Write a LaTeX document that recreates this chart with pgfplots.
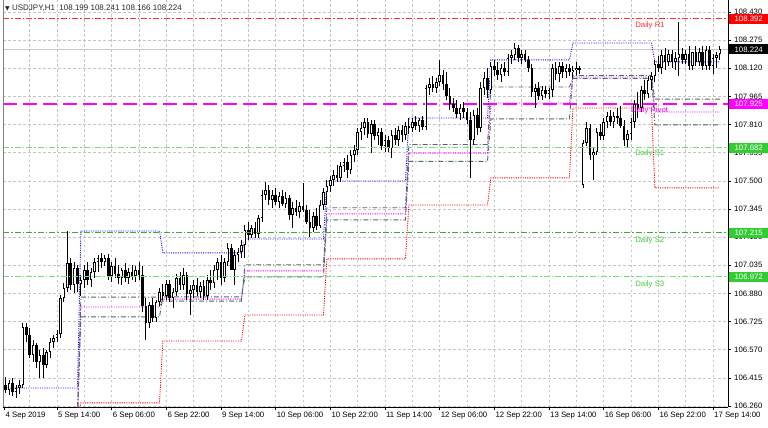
\documentclass[border=0pt]{standalone}
\usepackage{pgfplots}
\pgfplotsset{compat=1.18}
\usepackage{pgfplotstable}
\usepackage{fontspec}
\setmainfont{Liberation Sans}
\newfontfamily\dejavu{DejaVu Sans}

\definecolor{gridc}{HTML}{C4C4C4}
\definecolor{r1c}{HTML}{FF3030}
\definecolor{pivc}{RGB}{255,0,255}
\definecolor{s1c}{HTML}{78DC78}
\definecolor{s2c}{HTML}{35B035}
\definecolor{labg}{HTML}{45CC45}
\definecolor{tagg}{HTML}{32CD32}
\definecolor{cprc}{HTML}{4F6A6A}
\definecolor{bidc}{HTML}{C8C8C8}
\definecolor{stepb}{HTML}{1A1AFF}
\newcommand\mtfont{\fontsize{7.8bp}{9bp}\selectfont}

% hourly bars, b = bar index (0 = 5 Sep 14:00)
\pgfplotstableread{
b o h l c
-15 106.376 106.420 106.332 106.348
-14 106.348 106.403 106.321 106.387
-13 106.387 106.414 106.315 106.337
-12 106.337 106.376 106.304 106.359
-11 106.359 106.403 106.326 106.376
-10 106.376 106.717 106.359 106.695
-9 106.695 106.717 106.613 106.651
-8 106.651 106.690 106.524 106.541
-7 106.541 106.624 106.502 106.596
-6 106.596 106.607 106.469 106.502
-5 106.502 106.569 106.414 106.541
-4 106.541 106.580 106.414 106.486
-3 106.486 106.569 106.469 106.558
-2 106.558 106.635 106.524 106.613
-1 106.613 106.651 106.580 106.635
0 106.635 106.679 106.613 106.657
1 106.657 106.871 106.635 106.855
2 106.855 106.937 106.833 106.910
3 106.910 107.224 106.888 107.048
4 107.048 107.075 106.899 106.927
5 106.927 107.053 106.883 107.020
6 107.020 107.037 106.888 106.932
7 106.932 106.982 106.866 106.954
8 106.954 107.037 106.910 107.009
9 107.009 107.053 106.927 106.954
10 106.954 107.020 106.916 106.998
11 106.998 107.075 106.965 107.053
12 107.053 107.092 106.998 107.075
13 107.075 107.103 107.020 107.053
14 107.053 107.092 107.031 107.075
15 107.075 107.097 106.954 106.976
16 106.976 107.053 106.943 107.031
17 107.031 107.075 106.965 106.987
18 106.987 107.037 106.932 106.965
19 106.965 107.020 106.927 107.009
20 107.009 107.048 106.943 106.965
21 106.965 107.020 106.932 106.998
22 106.998 107.037 106.954 106.976
23 106.976 107.031 106.943 107.009
24 107.009 107.053 106.954 106.982
25 106.982 107.031 106.778 106.811
26 106.811 106.855 106.624 106.717
27 106.717 106.833 106.690 106.816
28 106.816 106.855 106.723 106.745
29 106.745 106.844 106.723 106.833
30 106.833 106.910 106.811 106.888
31 106.888 106.932 106.844 106.866
32 106.866 106.954 106.844 106.932
33 106.932 106.954 106.833 106.855
34 106.855 106.910 106.800 106.888
35 106.888 106.987 106.866 106.965
36 106.965 106.998 106.899 106.927
37 106.927 107.020 106.899 106.982
38 106.982 106.998 106.844 106.877
39 106.877 106.927 106.761 106.899
40 106.899 106.954 106.855 106.927
41 106.927 106.965 106.866 106.888
42 106.888 106.943 106.855 106.921
43 106.921 106.954 106.844 106.866
44 106.866 106.982 106.844 106.954
45 106.954 107.009 106.899 106.937
46 106.937 107.037 106.910 107.009
47 107.009 107.075 106.954 107.053
48 107.053 107.092 106.927 106.965
49 106.965 107.075 106.943 107.053
50 107.053 107.158 107.031 107.130
51 107.130 107.152 107.020 107.009
52 107.009 107.119 106.927 107.092
53 107.092 107.130 107.053 107.108
54 107.108 107.174 107.075 107.147
55 107.147 107.257 107.075 107.229
56 107.229 107.273 107.174 107.202
57 107.202 107.257 107.185 107.240
58 107.240 107.273 107.185 107.207
59 107.207 107.312 107.185 107.296
60 107.296 107.450 107.273 107.422
61 107.422 107.494 107.395 107.450
62 107.450 107.477 107.367 107.395
63 107.395 107.450 107.351 107.422
64 107.422 107.461 107.367 107.384
65 107.384 107.439 107.351 107.417
66 107.417 107.450 107.362 107.373
67 107.373 107.439 107.351 107.406
68 107.406 107.422 107.285 107.312
69 107.312 107.384 107.240 107.351
70 107.351 107.395 107.307 107.329
71 107.329 107.384 107.296 107.362
72 107.362 107.488 107.329 107.340
73 107.340 107.367 107.262 107.273
74 107.273 107.340 107.191 107.240
75 107.240 107.329 107.218 107.307
76 107.307 107.351 107.229 107.251
77 107.251 107.395 107.240 107.367
78 107.367 107.461 107.340 107.439
79 107.439 107.505 107.367 107.472
80 107.472 107.527 107.439 107.505
81 107.505 107.560 107.472 107.532
82 107.532 107.587 107.494 107.516
83 107.516 107.604 107.494 107.582
84 107.582 107.626 107.549 107.604
85 107.604 107.642 107.516 107.560
86 107.560 107.670 107.538 107.642
87 107.642 107.697 107.604 107.670
88 107.670 107.791 107.642 107.769
89 107.769 107.824 107.725 107.791
90 107.791 107.846 107.753 107.824
91 107.824 107.846 107.736 107.758
92 107.758 107.835 107.653 107.813
93 107.813 107.835 107.725 107.747
94 107.747 107.791 107.697 107.769
95 107.769 107.791 107.670 107.692
96 107.692 107.753 107.659 107.725
97 107.725 107.747 107.659 107.681
98 107.681 107.780 107.626 107.753
99 107.753 107.791 107.697 107.725
100 107.725 107.802 107.692 107.780
101 107.780 107.808 107.714 107.753
102 107.753 107.824 107.725 107.802
103 107.802 107.846 107.758 107.791
104 107.791 107.846 107.769 107.824
105 107.824 107.857 107.780 107.802
106 107.802 107.846 107.769 107.835
107 107.835 107.857 107.780 107.797
108 107.797 108.028 107.780 108.011
109 108.011 108.066 107.973 108.033
110 108.033 108.077 107.989 108.011
111 108.011 108.066 107.984 108.044
112 108.044 108.166 108.022 108.083
113 108.083 108.110 107.999 108.033
114 108.033 108.099 107.945 107.967
115 107.967 108.011 107.890 107.923
116 107.923 107.956 107.879 107.901
117 107.901 107.945 107.846 107.868
118 107.868 107.923 107.835 107.901
119 107.901 107.934 107.846 107.879
120 107.879 107.901 107.813 107.835
121 107.835 107.879 107.516 107.725
122 107.725 107.890 107.697 107.863
123 107.863 107.901 107.753 107.791
124 107.791 108.044 107.769 108.011
125 108.011 108.099 107.973 108.066
126 108.066 108.121 107.956 108.000
127 108.000 108.155 107.978 108.133
128 108.133 108.166 108.077 108.110
129 108.110 108.155 108.055 108.083
130 108.083 108.144 108.044 108.121
131 108.121 108.155 108.077 108.099
132 108.099 108.199 108.077 108.177
133 108.177 108.221 108.144 108.193
134 108.193 108.259 108.166 108.232
135 108.232 108.248 108.155 108.177
136 108.177 108.221 108.144 108.199
137 108.199 108.221 108.155 108.166
138 108.166 108.188 108.099 108.121
139 108.121 108.144 107.962 107.989
140 107.989 108.033 107.901 108.011
141 108.011 108.044 107.945 107.967
142 107.967 108.022 107.945 108.000
143 108.000 108.022 107.956 107.978
144 107.978 108.011 107.951 108.000
145 108.000 108.144 107.962 108.121
146 108.121 108.155 108.055 108.088
147 108.088 108.155 108.044 108.133
148 108.133 108.155 108.066 108.099
149 108.099 108.144 108.066 108.121
150 108.121 108.144 108.077 108.099
151 108.099 108.133 108.066 108.110
152 108.110 108.155 108.083 108.121
153 108.121 108.133 108.088 108.110
154 107.477 107.725 107.461 107.709
155 107.709 107.824 107.692 107.791
156 107.791 107.813 107.615 107.642
157 107.642 107.681 107.505 107.659
158 107.659 107.791 107.642 107.769
159 107.769 107.813 107.725 107.747
160 107.747 107.846 107.725 107.824
161 107.824 107.879 107.791 107.857
162 107.857 107.890 107.802 107.824
163 107.824 107.879 107.791 107.857
164 107.857 107.901 107.813 107.846
165 107.846 107.912 107.791 107.802
166 107.802 107.835 107.692 107.725
167 107.725 107.780 107.681 107.758
168 107.758 107.846 107.725 107.824
169 107.824 107.945 107.791 107.923
170 107.923 107.989 107.846 107.901
171 107.901 108.022 107.879 108.000
172 108.000 108.055 107.945 107.978
173 107.978 108.077 107.956 108.055
174 108.055 108.099 107.999 108.077
175 108.077 108.166 108.044 108.144
176 108.144 108.188 108.099 108.121
177 108.121 108.221 108.088 108.193
178 108.193 108.232 108.110 108.155
179 108.155 108.221 108.133 108.199
180 108.199 108.221 108.122 108.155
181 108.155 108.210 108.110 108.177
182 108.177 108.375 108.077 108.199
183 108.199 108.232 108.144 108.166
184 108.166 108.221 108.144 108.199
185 108.199 108.243 108.110 108.133
186 108.133 108.210 108.110 108.210
187 108.210 108.243 108.133 108.155
188 108.155 108.232 108.133 108.210
189 108.210 108.243 108.110 108.133
190 108.133 108.243 108.110 108.221
191 108.221 108.243 108.110 108.133
192 108.133 108.199 108.088 108.177
193 108.177 108.210 108.122 108.193
194 108.199 108.241 108.166 108.224
}\candles

\begin{document}
\begin{tikzpicture}[x=1bp,y=1bp]
\path[use as bounding box] (0,0) rectangle (768,427);
\begin{axis}[
  at={(3bp,20bp)}, anchor=south west,
  width=725bp, height=407bp, scale only axis,
  xmin=-15.8, xmax=196.4, ymin=106.2545, ymax=108.496,
  axis x line*=bottom, axis y line*=right,
  axis line style={black, line width=0.8bp},
  tick align=outside,
  major tick length=3bp, minor tick length=0pt,
  tick style={black, line width=0.6bp},
  xtick={0,16,...,192},
  xticklabels={5 Sep 14:00, 6 Sep 06:00, 6 Sep 22:00, 9 Sep 14:00, 10 Sep 06:00, 10 Sep 22:00, 11 Sep 14:00, 12 Sep 06:00, 12 Sep 22:00, 13 Sep 14:00, 16 Sep 06:00, 16 Sep 22:00, 17 Sep 14:00},
  minor xtick={-8,8,...,184},
  extra x ticks={-15.4}, extra x tick labels={4 Sep 2019},
  extra x tick style={grid=none},
  ytick={106.26,106.415,106.57,106.725,106.88,107.035,107.19,107.345,107.5,107.655,107.81,107.965,108.12,108.275,108.43},
  yticklabels={106.260,106.415,106.570,106.725,106.880,107.035,107.190,107.345,107.500,107.655,107.810,107.965,108.120,108.275,108.430},
  grid=both,
  grid style={gridc, dash pattern=on 2.5bp off 2.5bp, line width=0.6bp},
  minor grid style={gridc, dash pattern=on 2.5bp off 2.5bp, line width=0.6bp},
  xticklabel style={anchor=north west, inner sep=0pt, xshift=1bp, yshift=-2bp, font=\mtfont},
  yticklabel style={anchor=west, inner sep=0pt, xshift=3bp, font=\mtfont},
  clip mode=individual,
]
% bid line
\addplot[bidc, line width=0.9bp] coordinates {(-15.8,108.224) (196.4,108.224)};

% daily pivot level, drawn under the day steps
\addplot[draw=pivc, line width=2bp, dash pattern=on 14bp off 6bp] coordinates {(-15.8,107.925) (196.4,107.925)};

% previous day high / low, pivot and central range, one step per day
\addplot[stepb, line width=0.9bp, dash pattern=on 1.1bp off 1.2bp] coordinates {
(-15.8,106.359) (6,106.359) (7,107.224) (30,107.224) (31,107.103) (54,107.103)
(55,107.180) (78,107.180) (79,107.499) (102,107.499) (103,107.846) (126,107.846)
(127,108.166) (150,108.166) (151,108.259) (174,108.259) (175,108.155) (194,108.155)};
\addplot[red, line width=0.9bp, dash pattern=on 1.1bp off 1.2bp] coordinates {
(6,106.20) (7,106.277) (30,106.277) (31,106.618) (54,106.618)
(55,106.761) (78,106.761) (79,107.070) (102,107.070) (103,107.367) (126,107.367)
(127,107.516) (150,107.516) (151,107.901) (174,107.901) (175,107.461) (194,107.461)};
\addplot[pivc, line width=0.9bp, dash pattern=on 1.1bp off 1.2bp] coordinates {
(6,106.20) (7,106.805) (30,106.805) (31,106.849) (54,106.849)
(55,107.004) (78,107.004) (79,107.318) (102,107.318) (103,107.653) (126,107.653)
(127,107.929) (150,107.929) (151,108.072) (174,108.072) (175,107.879) (194,107.879)};
\addplot[cprc, line width=0.9bp, dash pattern=on 5bp off 2bp on 1bp off 2bp] coordinates {
(6,106.20) (7,106.751) (30,106.751) (31,106.861) (54,106.861)
(55,106.971) (78,106.971) (79,107.285) (102,107.285) (103,107.607) (126,107.607)
(127,107.841) (150,107.841) (151,108.080) (174,108.080) (175,107.808) (194,107.808)};
\addplot[cprc, line width=0.9bp, dash pattern=on 5bp off 2bp on 1bp off 2bp] coordinates {
(6,106.20) (7,106.860) (30,106.860) (31,106.838) (54,106.838)
(55,107.038) (78,107.038) (79,107.352) (102,107.352) (103,107.700) (126,107.700)
(127,108.017) (150,108.017) (151,108.064) (174,108.064) (175,107.950) (194,107.950)};

% candles: wicks, then bodies
\addplot[draw=none, mark=none, error bars/.cd, y dir=both, y explicit, error mark=none,
  error bar style={draw=black, line width=0.9bp}]
  table[x=b, y expr={0.5*(\thisrow{h}+\thisrow{l})}, y error expr={0.5*(\thisrow{h}-\thisrow{l})}] {\candles};
\addplot[draw=none, mark=none, error bars/.cd, y dir=both, y explicit, error mark=none,
  error bar style={draw=black, line width=2.6bp}]
  table[x=b, y expr={0.5*(\thisrow{o}+\thisrow{c})}, y error expr={max(0.5*(\thisrow{c}-\thisrow{o}),0)}] {\candles};
\addplot[draw=none, mark=none, error bars/.cd, y dir=both, y explicit, error mark=none,
  error bar style={draw=white, line width=1.0bp}]
  table[x=b, y expr={0.5*(\thisrow{o}+\thisrow{c})}, y error expr={max(0.5*(\thisrow{c}-\thisrow{o})-0.004,0)}] {\candles};
\addplot[draw=none, mark=none, error bars/.cd, y dir=both, y explicit, error mark=none,
  error bar style={draw=black, line width=2.6bp}]
  table[x=b, y expr={0.5*(\thisrow{o}+\thisrow{c})}, y error expr={max(0.5*(\thisrow{o}-\thisrow{c}),0)}] {\candles};

% daily levels
\addplot[r1c, line width=1.1bp, dash pattern=on 6bp off 2bp on 1.5bp off 2bp] coordinates {(-15.8,108.392) (196.4,108.392)};
\addplot[s1c, line width=1.1bp, dash pattern=on 6bp off 2bp on 1.5bp off 2bp] coordinates {(-15.8,107.682) (196.4,107.682)};
\addplot[s2c, line width=1.1bp, dash pattern=on 6bp off 2bp on 1.5bp off 2bp] coordinates {(-15.8,107.215) (196.4,107.215)};
\addplot[s1c, line width=1.1bp, dash pattern=on 6bp off 2bp on 1.5bp off 2bp] coordinates {(-15.8,106.972) (196.4,106.972)};

\node[anchor=west, inner sep=0pt, text=r1c, font=\mtfont] at (axis cs:169.2,108.358) {Daily R1};
\node[anchor=west, inner sep=0pt, text=pivc, font=\mtfont] at (axis cs:168.0,107.890) {Daily Pivot};
\node[anchor=west, inner sep=0pt, text=labg, font=\mtfont] at (axis cs:169.2,107.648) {Daily S1};
\node[anchor=west, inner sep=0pt, text=labg, font=\mtfont] at (axis cs:169.2,107.174) {Daily S2};
\node[anchor=west, inner sep=0pt, text=labg, font=\mtfont] at (axis cs:169.2,106.932) {Daily S3};

% price tags on the right scale
\node[fill=red, text=white, anchor=west, xshift=1bp, minimum width=39bp, minimum height=10bp, inner sep=0pt, font=\mtfont] at (axis cs:196.4,108.392) {108.392};
\node[fill=black, text=white, anchor=west, xshift=1bp, minimum width=39bp, minimum height=10bp, inner sep=0pt, font=\mtfont] at (axis cs:196.4,108.224) {108.224};
\node[fill=pivc, text=white, anchor=west, xshift=1bp, minimum width=39bp, minimum height=10bp, inner sep=0pt, font=\mtfont] at (axis cs:196.4,107.925) {107.925};
\node[fill=tagg, text=white, anchor=west, xshift=1bp, minimum width=39bp, minimum height=10bp, inner sep=0pt, font=\mtfont] at (axis cs:196.4,107.682) {107.682};
\node[fill=tagg, text=white, anchor=west, xshift=1bp, minimum width=39bp, minimum height=10bp, inner sep=0pt, font=\mtfont] at (axis cs:196.4,107.215) {107.215};
\node[fill=tagg, text=white, anchor=west, xshift=1bp, minimum width=39bp, minimum height=10bp, inner sep=0pt, font=\mtfont] at (axis cs:196.4,106.972) {106.972};

\draw[gray, line width=1bp] (rel axis cs:0,0) -- (rel axis cs:0,1);
\end{axis}
\node[anchor=west, inner sep=0pt, text=black!85, font=\fontsize{8bp}{9bp}\selectfont] at (5,419)
  {{\dejavu\fontsize{6bp}{7bp}\selectfont ▼}\ USDJPY,H1\ \ 108.199 108.241 108.166 108.224};
\end{tikzpicture}
\end{document}
